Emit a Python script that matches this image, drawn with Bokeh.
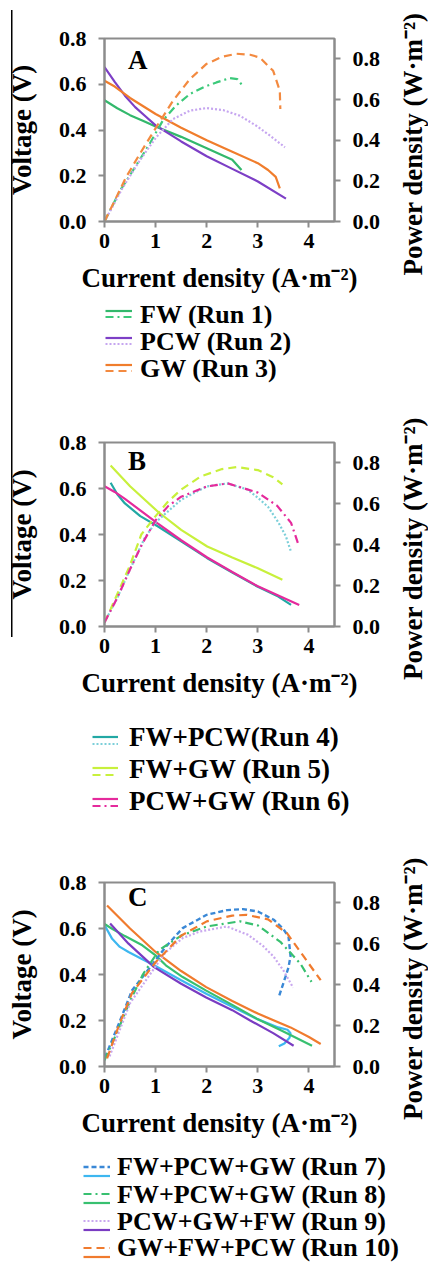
import math
from bokeh.plotting import figure
from bokeh.models import (Range1d, LinearAxis, FixedTicker, PrintfTickFormatter,
                          Legend, LegendItem, Label)
from bokeh.embed import file_html
from bokeh.resources import INLINE

FONT = "Liberation Serif"
GRAY = "#8c8c8c"

# ---------------- data ----------------
x_ticks = [0, 1, 2, 3, 4]
v_ticks = [0.0, 0.2, 0.4, 0.6, 0.8]
p_ticks = [0.0, 0.2, 0.4, 0.6, 0.8]

# Panel A
a_fw_v_x = [0, 0.25, 0.5, 0.75, 1.0, 1.5, 2.0, 2.5, 2.68]
a_fw_v_y = [0.53, 0.495, 0.465, 0.44, 0.415, 0.37, 0.32, 0.27, 0.225]
a_fw_p_x = [0, 0.3, 0.555, 0.88, 1.14, 1.4, 1.67, 1.95, 2.19, 2.45, 2.6, 2.7]
a_fw_p_y = [0, 0.15, 0.25, 0.381, 0.496, 0.57, 0.627, 0.662, 0.684, 0.705, 0.70, 0.668]
a_pcw_v_x = [0, 0.2, 0.4, 0.6, 0.8, 1.0, 1.25, 1.5, 2.0, 2.5, 3.0, 3.55]
a_pcw_v_y = [0.675, 0.61, 0.55, 0.50, 0.46, 0.42, 0.385, 0.35, 0.285, 0.23, 0.175, 0.10]
a_pcw_p_x = [0, 0.36, 0.69, 1.01, 1.34, 1.67, 1.99, 2.32, 2.65, 2.97, 3.24, 3.53]
a_pcw_p_y = [0, 0.168, 0.30, 0.414, 0.504, 0.545, 0.558, 0.548, 0.52, 0.471, 0.422, 0.365]
a_gw_v_x = [0, 0.2, 0.5, 1.0, 1.5, 2.0, 2.5, 3.0, 3.2, 3.35, 3.43]
a_gw_v_y = [0.615, 0.59, 0.54, 0.47, 0.41, 0.355, 0.305, 0.255, 0.225, 0.195, 0.145]
a_gw_p_x = [0, 0.42, 0.69, 1.01, 1.34, 1.67, 1.99, 2.3, 2.58, 2.85, 3.04, 3.3, 3.43, 3.44]
a_gw_p_y = [0, 0.217, 0.332, 0.463, 0.594, 0.70, 0.774, 0.81, 0.825, 0.82, 0.806, 0.741, 0.643, 0.553]
a_labels = ["FW (Run 1)", "PCW (Run 2)", "GW (Run 3)"]

# Panel B
b_r4_v_x = [0.12, 0.25, 0.4, 0.7, 1.04, 1.5, 2.01, 2.5, 2.99, 3.4, 3.65]
b_r4_v_y = [0.625, 0.575, 0.535, 0.48, 0.436, 0.37, 0.297, 0.235, 0.174, 0.13, 0.094]
b_r4_p_x = [0.0, 0.25, 0.5, 0.78, 1.0, 1.5, 2.0, 2.4, 2.8, 3.0, 3.2, 3.4, 3.55, 3.65]
b_r4_p_y = [0.02, 0.14, 0.28, 0.43, 0.51, 0.62, 0.685, 0.70, 0.67, 0.63, 0.585, 0.51, 0.44, 0.365]
b_r5_v_x = [0.12, 0.5, 1.04, 1.5, 2.01, 2.5, 2.99, 3.48]
b_r5_v_y = [0.70, 0.61, 0.50, 0.42, 0.348, 0.30, 0.254, 0.203]
b_r5_p_x = [0.0, 0.12, 0.5, 0.72, 1.0, 1.24, 1.5, 1.89, 2.3, 2.6, 3.0, 3.3, 3.48]
b_r5_p_y = [0.02, 0.085, 0.30, 0.45, 0.54, 0.61, 0.67, 0.735, 0.77, 0.78, 0.765, 0.73, 0.695]
b_r6_v_x = [0.0, 0.2, 0.4, 0.7, 1.04, 1.5, 2.01, 2.5, 2.99, 3.4, 3.81]
b_r6_v_y = [0.61, 0.585, 0.555, 0.505, 0.448, 0.375, 0.30, 0.237, 0.176, 0.135, 0.094]
b_r6_p_x = [0.0, 0.25, 0.5, 0.75, 1.0, 1.25, 1.5, 2.0, 2.41, 3.0, 3.38, 3.65, 3.79]
b_r6_p_y = [0.02, 0.14, 0.28, 0.41, 0.52, 0.59, 0.635, 0.685, 0.70, 0.655, 0.59, 0.507, 0.404]
b_labels = ["FW+PCW(Run 4)", "FW+GW (Run 5)", "PCW+GW (Run 6)"]

# Panel C
c_r7_v_x = [0.0, 0.15, 0.3, 0.47, 0.75, 0.97, 1.5, 2.0, 2.5, 2.98, 3.4, 3.58, 3.64, 3.62, 3.52, 3.41]
c_r7_v_y = [0.615, 0.555, 0.52, 0.498, 0.465, 0.44, 0.375, 0.315, 0.26, 0.207, 0.17, 0.16, 0.145, 0.125, 0.10, 0.088]
c_r7_p_x = [0.01, 0.28, 0.54, 0.8, 1.0, 1.2, 1.53, 2.0, 2.4, 2.71, 3.0, 3.31, 3.5, 3.6, 3.64, 3.6, 3.54, 3.41]
c_r7_p_y = [0.044, 0.209, 0.373, 0.455, 0.52, 0.586, 0.677, 0.742, 0.765, 0.77, 0.758, 0.718, 0.672, 0.635, 0.54, 0.485, 0.438, 0.34]
c_r8_v_x = [0.0, 0.14, 0.4, 0.74, 1.0, 1.2, 1.53, 1.99, 2.5, 2.98, 3.5, 4.06]
c_r8_v_y = [0.62, 0.60, 0.567, 0.527, 0.483, 0.44, 0.389, 0.33, 0.268, 0.208, 0.152, 0.09]
c_r8_p_x = [0.0, 0.25, 0.5, 0.75, 1.07, 1.5, 2.0, 2.65, 3.0, 3.44, 3.83, 4.05]
c_r8_p_y = [0.03, 0.17, 0.32, 0.45, 0.57, 0.64, 0.685, 0.71, 0.69, 0.61, 0.504, 0.414]
c_r9_v_x = [0.11, 0.47, 0.97, 1.5, 1.99, 2.5, 2.85, 3.3, 3.7]
c_r9_v_y = [0.622, 0.534, 0.432, 0.36, 0.30, 0.245, 0.20, 0.145, 0.09]
c_r9_p_x = [0.1, 0.5, 1.0, 1.2, 1.53, 1.86, 2.39, 2.81, 3.1, 3.31, 3.5, 3.69]
c_r9_p_y = [0.05, 0.31, 0.49, 0.56, 0.628, 0.66, 0.685, 0.644, 0.59, 0.537, 0.47, 0.386]
c_r10_v_x = [0.05, 0.5, 1.0, 1.5, 1.99, 2.5, 3.01, 3.64, 4.0, 4.23]
c_r10_v_y = [0.70, 0.60, 0.498, 0.415, 0.345, 0.285, 0.229, 0.17, 0.128, 0.098]
c_r10_p_x = [0.05, 0.28, 0.54, 1.0, 1.5, 2.0, 2.5, 2.78, 3.2, 3.57, 3.9, 4.23]
c_r10_p_y = [0.04, 0.20, 0.36, 0.51, 0.64, 0.71, 0.738, 0.742, 0.72, 0.652, 0.537, 0.422]
c_labels = ["FW+PCW+GW (Run 7)", "FW+PCW+GW (Run 8)", "PCW+GW+FW (Run 9)", "GW+FW+PCW (Run 10)"]

DASH = "8 5"
DASHDOT = "8 4 2 4"
DOT = "2 2"
SHORTDASH = "5 3"


def sty(color, dash="solid", width=2.2):
    return dict(line_color=color, line_width=width, line_dash=dash)


def vline_style(top, length):
    return {"background-image": "linear-gradient(black, black)",
            "background-repeat": "no-repeat",
            "background-size": "1.5px %dpx" % length,
            "background-position": "11px %dpx" % top}


def style_axis(ax, ticks, label_standoff, tick_standoff=12):
    ax.ticker = FixedTicker(ticks=ticks)
    ax.axis_line_color = GRAY
    ax.axis_line_width = 2
    ax.major_tick_line_color = GRAY
    ax.major_tick_line_width = 2
    ax.major_tick_out = 6
    ax.major_tick_in = 0
    ax.minor_tick_line_color = None
    ax.major_label_standoff = tick_standoff
    ax.major_label_text_font = FONT
    ax.major_label_text_font_style = "bold"
    ax.major_label_text_font_size = "22px"
    ax.major_label_text_color = "black"
    ax.axis_label_text_font = FONT
    ax.axis_label_text_font_style = "bold"
    ax.axis_label_text_font_size = "27px"
    ax.axis_label_text_color = "black"
    ax.axis_label_standoff = label_standoff


def chart(height, border_top, frame_h, letter, letter_y, styles=None):
    p = figure(width=428, height=height, output_backend="svg", toolbar_location=None,
               x_range=Range1d(0, 4.5), y_range=Range1d(0, 0.8),
               min_border_left=104, min_border_right=94, min_border_top=border_top,
               min_border_bottom=height - border_top - frame_h,
               x_axis_location=None, y_axis_location=None)
    if styles:
        p.styles = styles
    p.extra_y_ranges = {"p": Range1d(0, 0.9)}
    p.grid.grid_line_color = None
    p.outline_line_color = GRAY
    p.outline_line_width = 2
    p.background_fill_color = "white"
    p.border_fill_alpha = 0

    xa = LinearAxis(axis_label="Current density (A·m⁻²)")
    style_axis(xa, x_ticks, 12, tick_standoff=6)
    p.add_layout(xa, "below")

    ya = LinearAxis(axis_label="Voltage (V)")
    style_axis(ya, v_ticks, 19)
    ya.formatter = PrintfTickFormatter(format="%.1f")
    p.add_layout(ya, "left")

    ra = LinearAxis(y_range_name="p")
    style_axis(ra, p_ticks, 0)
    ra.formatter = PrintfTickFormatter(format="%.1f")
    p.add_layout(ra, "right")

    rt = Label(x=14, y=frame_h / 2 - 14, x_units="screen", y_units="screen",
               text="Power density (W·m⁻²)", angle=math.pi / 2,
               text_align="center", text_baseline="top", text_font=FONT,
               text_font_style="bold", text_font_size="27px", text_color="black")
    p.add_layout(rt, "right")

    p.add_layout(Label(x=0.46, y=letter_y, text=letter, text_font=FONT,
                       text_font_style="bold", text_font_size="27px",
                       text_color="black", text_baseline="middle"))
    return p


def legend_fig(height, page_top, labels, text_centers, font_px, text_x,
               top_series, bot_series, row_h, icon_x, icon_w, top_c0, bot_c0, styles=None):
    # legend-only figure: the series lie outside its view range, only the
    # legend glyphs and labels are visible
    lf = figure(width=428, height=height, output_backend="svg", toolbar_location=None,
                x_range=Range1d(100, 101), y_range=Range1d(100, 101), min_border=0,
                x_axis_location=None, y_axis_location=None)
    if styles:
        lf.styles = styles
    lf.grid.grid_line_color = None
    lf.outline_line_color = None
    lf.background_fill_alpha = 0
    lf.border_fill_alpha = 0
    top_rs = [lf.line(xs, ys, **s) for xs, ys, s in top_series]
    bot_rs = [lf.line(xs, ys, **s) for xs, ys, s in bot_series]
    common = dict(padding=0, margin=0, spacing=0, background_fill_alpha=0,
                  border_line_alpha=0, orientation="vertical")
    n = len(labels)
    for rs, c0 in ((top_rs, top_c0), (bot_rs, bot_c0)):
        top = c0 - page_top - row_h / 2
        lf.add_layout(Legend(items=[LegendItem(label=" ", renderers=[r]) for r in rs],
                             location=(icon_x, height - top - n * row_h),
                             glyph_width=icon_w, glyph_height=row_h,
                             label_standoff=0, label_text_font_size="0px",
                             label_height=0, label_width=0, **common))
    fh = 1.107 * font_px
    for lab, r, c in zip(labels, top_rs, text_centers):
        vy = height - (c - page_top) - fh / 2
        lf.add_layout(Legend(items=[LegendItem(label=lab, renderers=[r])],
                             location=(text_x, vy), glyph_width=0, glyph_height=1,
                             label_standoff=0, label_text_font=FONT,
                             label_text_font_style="bold",
                             label_text_font_size="%dpx" % font_px,
                             label_text_color="black", label_height=1, **common))
    return lf


# ---------------- Panel A ----------------
pa = chart(300, 38, 183, "A", 0.708, vline_style(10, 290))
a_v = [(a_fw_v_x, a_fw_v_y, sty("#33b86c")), (a_pcw_v_x, a_pcw_v_y, sty("#7d3fc6")),
       (a_gw_v_x, a_gw_v_y, sty("#f07d2c"))]
a_p = [(a_fw_p_x, a_fw_p_y, sty("#3cc97a", DASHDOT)), (a_pcw_p_x, a_pcw_p_y, sty("#c6a6f0", DOT)),
       (a_gw_p_x, a_gw_p_y, sty("#f38a40", DASH))]
for xs, ys, s in a_v:
    pa.line(xs, ys, **s)
for xs, ys, s in a_p:
    pa.line(xs, ys, y_range_name="p", **s)
la = legend_fig(100, 300, a_labels, [315.5, 342.5, 369.5], 26, 140,
                a_v, a_p, 27, 105, 27, 310, 316, vline_style(0, 100))

# ---------------- Panel B ----------------
pb = chart(304, 42, 184, "B", 0.72, vline_style(0, 237))
b_v = [(b_r4_v_x, b_r4_v_y, sty("#22a8a4")), (b_r5_v_x, b_r5_v_y, sty("#c8f03c")),
       (b_r6_v_x, b_r6_v_y, sty("#e52a9c"))]
b_p = [(b_r4_p_x, b_r4_p_y, sty("#7ccfd9", DOT)), (b_r5_p_x, b_r5_p_y, sty("#c8f03c", DASH)),
       (b_r6_p_x, b_r6_p_y, sty("#e52a9c", DASHDOT))]
for xs, ys, s in b_v:
    pb.line(xs, ys, **s)
for xs, ys, s in b_p:
    pb.line(xs, ys, y_range_name="p", **s)
lb = legend_fig(136, 704, b_labels, [738, 770, 802], 27, 129,
                b_v, b_p, 31, 92, 26, 736, 743)

# ---------------- Panel C ----------------
pc = chart(304, 42, 184, "C", 0.736)
c_v = [(c_r7_v_x, c_r7_v_y, sty("#3db7f0")), (c_r8_v_x, c_r8_v_y, sty("#38c070")),
       (c_r9_v_x, c_r9_v_y, sty("#7a3cc2")), (c_r10_v_x, c_r10_v_y, sty("#f07b2e"))]
c_p = [(c_r7_p_x, c_r7_p_y, sty("#3a88d6", SHORTDASH, 2.4)), (c_r8_p_x, c_r8_p_y, sty("#38c070", DASHDOT)),
       (c_r9_p_x, c_r9_p_y, sty("#c9a8ef", DOT)), (c_r10_p_x, c_r10_p_y, sty("#f07b2e", DASH))]
for xs, ys, s in c_v:
    pc.line(xs, ys, **s)
for xs, ys, s in c_p:
    pc.line(xs, ys, y_range_name="p", **s)
lc = legend_fig(120, 1144, c_labels, [1168, 1195.5, 1222.5, 1249], 26, 117,
                c_p, c_v, 27, 83, 27, 1166, 1175)

open("out.html", "w").write(file_html([pa, la, pb, lb, pc, lc], INLINE))
